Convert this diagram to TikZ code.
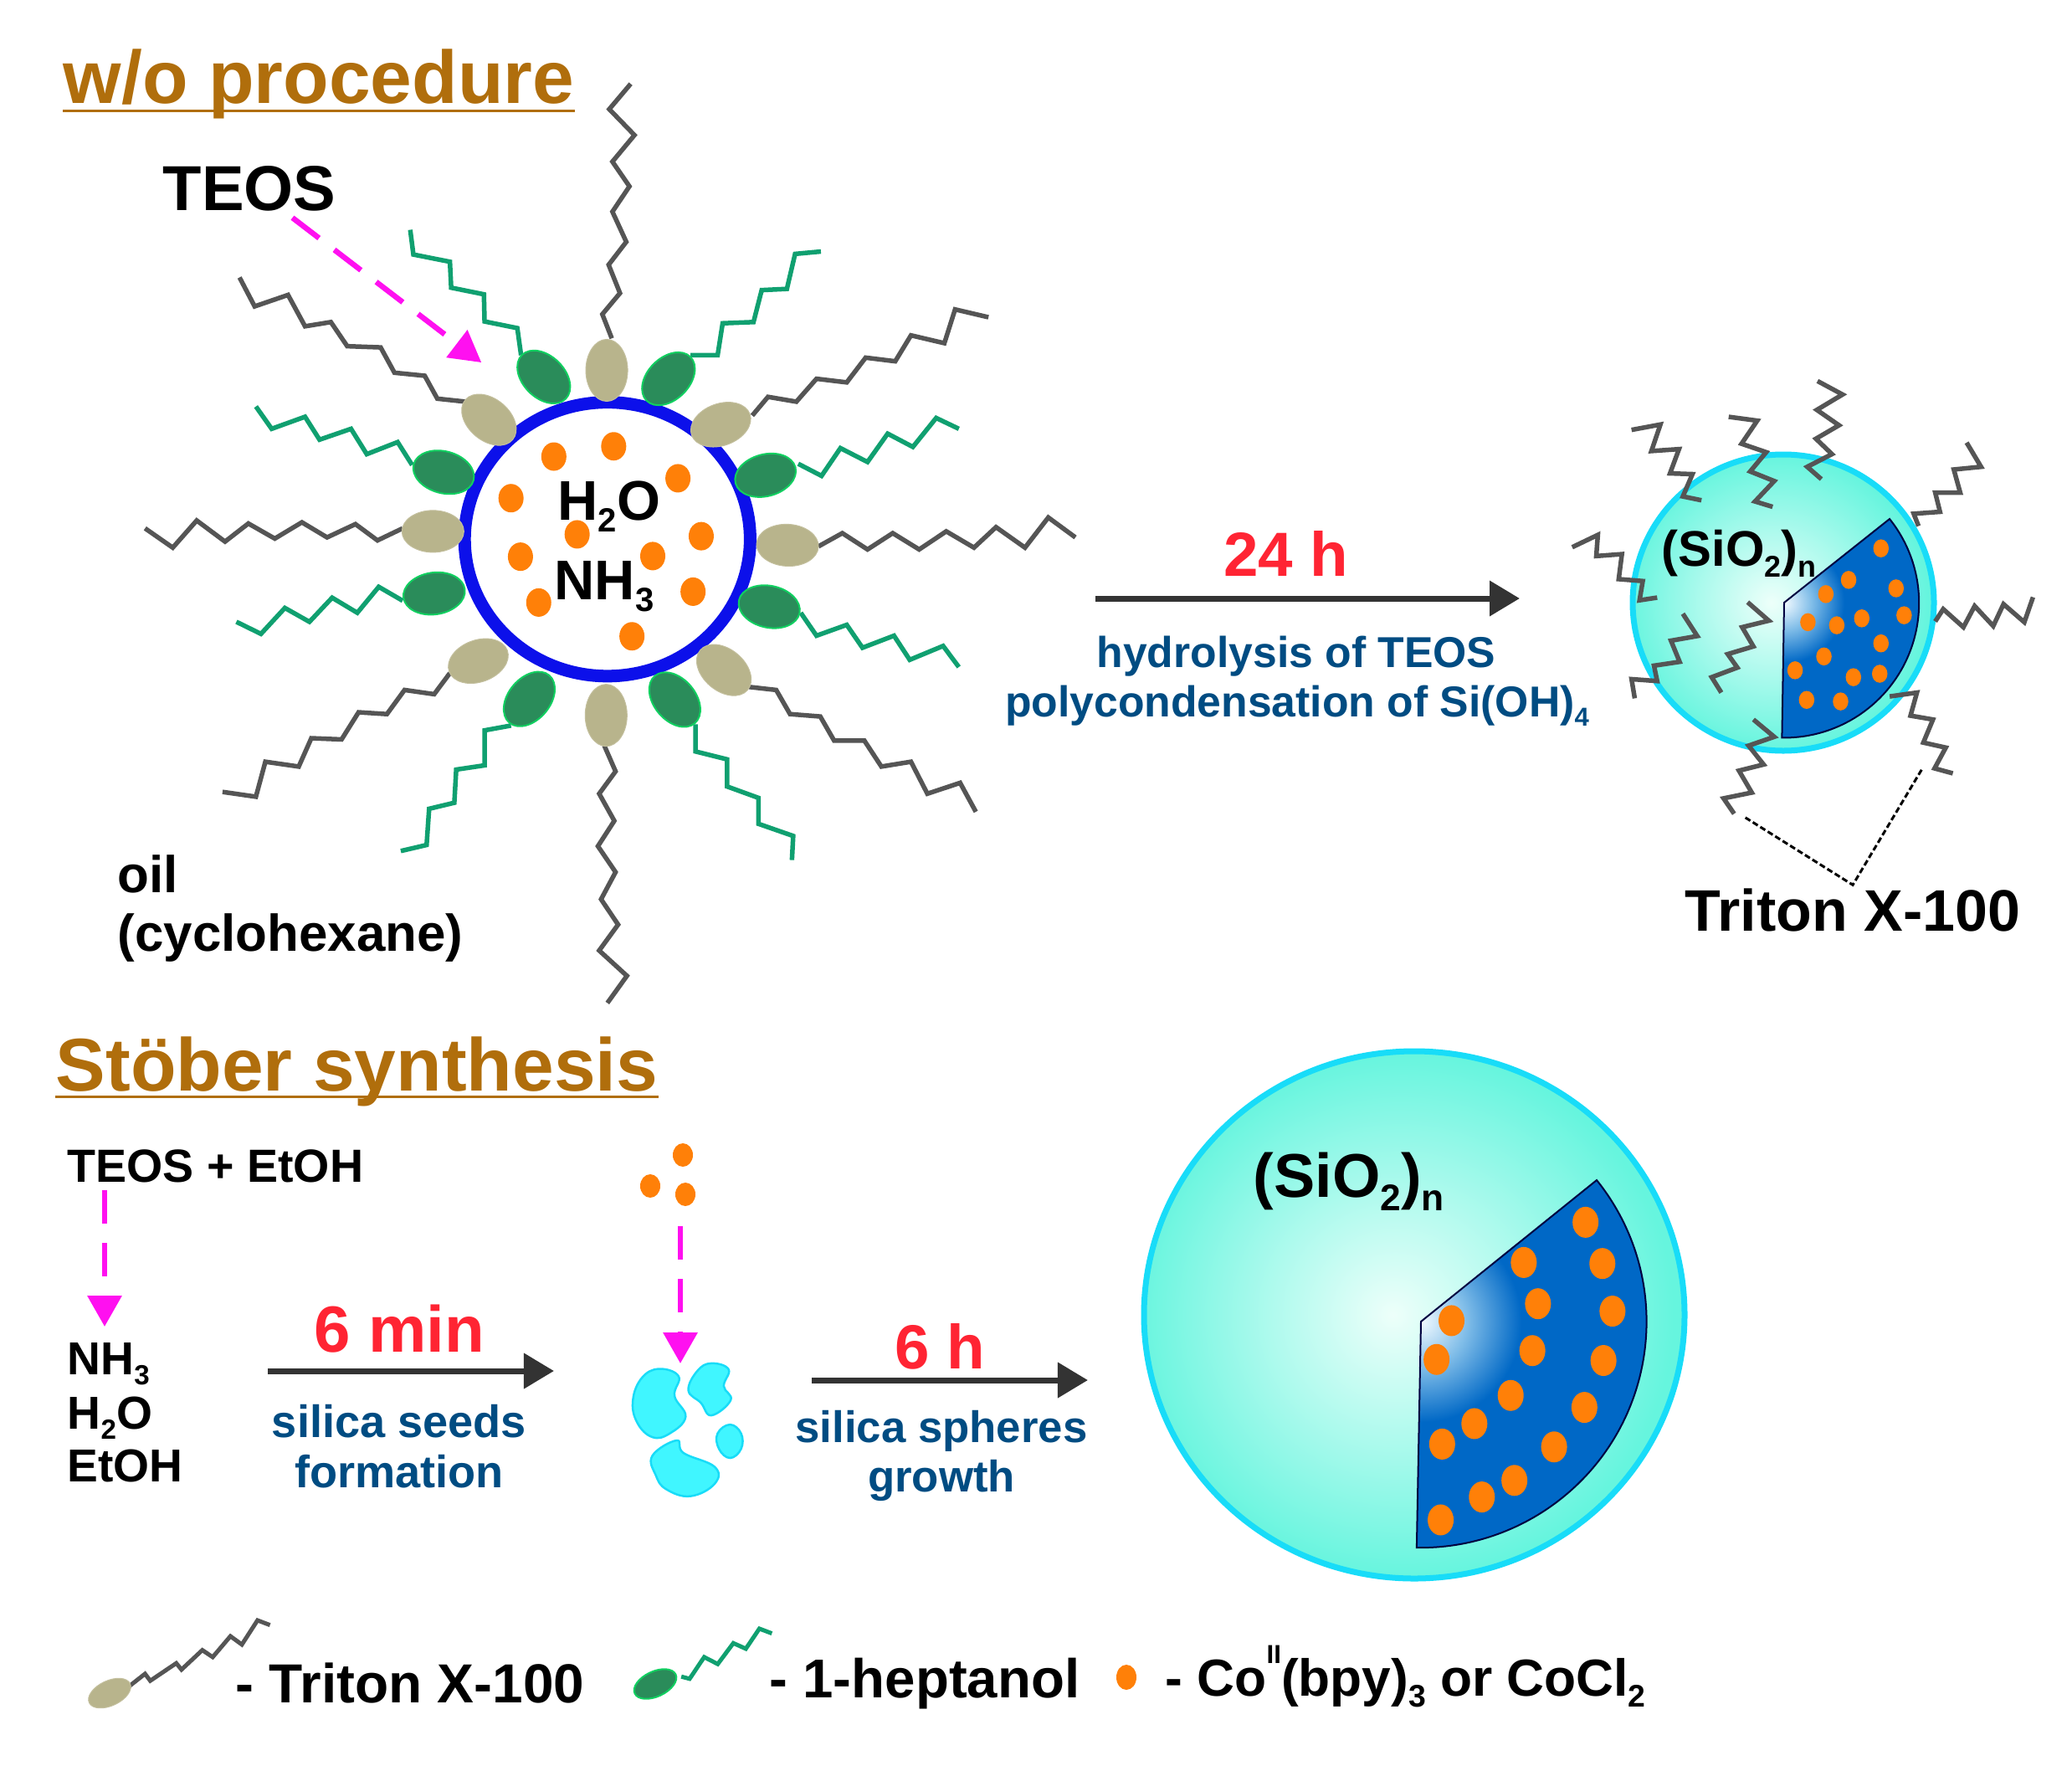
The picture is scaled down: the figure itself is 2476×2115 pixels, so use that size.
\documentclass[tikz,border=0pt]{standalone}
\usepackage{fontspec}
\setmainfont{Liberation Sans}
\usetikzlibrary{arrows.meta,shapes.geometric}
\definecolor{titlebrown}{HTML}{B06E0C}
\definecolor{labelblue}{HTML}{004C82}
\definecolor{timered}{HTML}{FF2433}
\definecolor{darkarrow}{HTML}{333333}
\definecolor{pinkarrow}{HTML}{FF10F0}
\definecolor{tailgray}{HTML}{555555}
\definecolor{tailgreen}{HTML}{10A070}
\definecolor{headtan}{HTML}{B8B48C}
\definecolor{headgreen}{HTML}{2A8C5A}
\definecolor{rimgreen}{HTML}{10D060}
\definecolor{shellblue}{HTML}{0C10EA}
\definecolor{dotorange}{HTML}{FF8008}
\definecolor{rimcyan}{HTML}{18DCF8}
\definecolor{seedcyan}{HTML}{40F6FF}
\definecolor{wedgeblue}{HTML}{0068C6}
\pgfdeclareradialshading{silicaball}{\pgfpoint{-2bp}{0bp}}{rgb(0bp)=(0.93,1,0.98); rgb(12bp)=(0.68,0.98,0.93); rgb(25bp)=(0.40,0.96,0.87); rgb(50bp)=(0.40,0.96,0.87)}
\pgfdeclareradialshading{wedgeglow}{\pgfpoint{0bp}{0bp}}{rgb(0bp)=(0.95,0.98,1); rgb(11bp)=(0.50,0.74,0.91); rgb(24bp)=(0,0.408,0.776); rgb(50bp)=(0,0.408,0.776)}
\newcommand{\low}[1]{\raisebox{-0.22em}{\scalebox{0.6}{#1}}}
\newcommand{\high}[1]{\raisebox{0.62em}{\scalebox{0.5}{#1}}}
\tikzset{txt/.style = {inner sep=0pt, anchor=base west, font=\fontsize{#1}{#1}\selectfont\bfseries}}
\tikzset{mid/.style = {inner sep=0pt, anchor=base, font=\fontsize{#1}{#1}\selectfont\bfseries}}
\tikzset{headline/.style = {txt=25.4, text=titlebrown}}
\tikzset{timelabel/.style = {mid=#1, text=timered}}
\tikzset{steplabel/.style = {mid=#1, text=labelblue}}
\tikzset{uline/.style = {draw=titlebrown, line width=0.03cm}}
\tikzset{reaction/.style = {draw=darkarrow, line width=0.07cm, -{Triangle[length=0.36cm,width=0.41cm]}}}
\tikzset{feed/.style = {draw=pinkarrow, line width=0.065cm, dash pattern=on 0.4cm off 0.23cm, -{Triangle[length=0.37cm,width=0.4cm,fill=pinkarrow]}}}
\tikzset{graychain/.style = {draw=tailgray, line width=0.055cm, line join=miter}}
\tikzset{greenchain/.style = {draw=tailgreen, line width=0.055cm, line join=miter}}
\tikzset{tanhead/.style = {shape=ellipse, fill=headtan, draw=headtan!85!white, line width=0.01cm, inner sep=0pt, minimum width=0.74cm, minimum height=0.5cm}}
\tikzset{greenhead/.style = {shape=ellipse, fill=headgreen, draw=rimgreen, line width=0.02cm, inner sep=0pt, minimum width=0.74cm, minimum height=0.5cm}}
\tikzset{dropdot/.style = {shape=ellipse, fill=dotorange, inner sep=0pt, minimum width=0.3cm, minimum height=0.34cm}}
\tikzset{smalldot/.style = {shape=ellipse, fill=dotorange, inner sep=0pt, minimum width=0.185cm, minimum height=0.215cm}}
\tikzset{bigdot/.style = {shape=ellipse, fill=dotorange, inner sep=0pt, minimum width=0.31cm, minimum height=0.37cm}}
\tikzset{shell/.style = {shape=ellipse, draw=shellblue, line width=0.15cm, inner sep=0pt, minimum width=3.41cm, minimum height=3.27cm}}
\tikzset{seed/.style = {fill=seedcyan, draw=rimcyan, line width=0.025cm}}
\tikzset{wedgeline/.style = {draw=black!75!blue, line width=0.02cm}}
\tikzset{ballrim/.style = {shading=silicaball, draw=rimcyan, line width=0.07cm}}
\begin{document}
\begin{tikzpicture}[x=0.01cm,y=-0.01cm]
\useasboundingbox (0,0) rectangle (2476,2115);
% titles
\node[headline] (title1) at (75,123) {w/o procedure};
\node[headline] (title2) at (66,1303) {Stöber synthesis};
\draw[uline] ([yshift=-0.09cm]title1.base west) -- ([yshift=-0.09cm]title1.base east);
\draw[uline] ([yshift=-0.07cm]title2.base west) -- ([yshift=-0.07cm]title2.base east);
% micelle
\begin{scope}[shift={(150,80)},x=0.007524cm,y=-0.007207cm]
\draw[graychain] (772,450) -- (757,410) -- (785,375) -- (767,328) -- (795,290) -- (773,240) -- (800,198) -- (773,157) -- (808,113) -- (768,70) -- (802,28);
\draw[greenchain] (628,478) -- (622,433) -- (570,422) -- (569,377) -- (517,366) -- (515,323) -- (457,311) -- (452,270);
\draw[graychain] (540,555) -- (495,550) -- (475,512) -- (427,507) -- (405,465) -- (352,463) -- (326,423) -- (285,430) -- (258,378) -- (205,397) -- (181,349);
\draw[greenchain] (455,660) -- (432,622) -- (383,642) -- (358,600) -- (308,618) -- (285,580) -- (232,600) -- (207,563);
\draw[graychain] (440,765) -- (400,785) -- (365,758) -- (320,780) -- (280,755) -- (237,782) -- (195,757) -- (158,787) -- (113,752) -- (75,797) -- (31,765);
\draw[greenchain] (440,885) -- (402,862) -- (368,905) -- (328,880) -- (292,920) -- (253,897) -- (215,940) -- (176,920);
\draw[graychain] (515,1005) -- (490,1040) -- (443,1033) -- (415,1073) -- (370,1070) -- (343,1115) -- (295,1113) -- (275,1160) -- (222,1152) -- (207,1210) -- (154,1202);
\draw[greenchain] (612,1092) -- (570,1100) -- (570,1158) -- (525,1165) -- (522,1220) -- (482,1230) -- (478,1290) -- (437,1300);
\draw[graychain] (760,1125) -- (778,1168) -- (752,1205) -- (776,1250) -- (750,1292) -- (778,1335) -- (755,1380) -- (782,1422) -- (752,1465) -- (796,1507) -- (765,1552);
\draw[greenchain] (905,1090) -- (905,1135) -- (955,1148) -- (955,1193) -- (1005,1212) -- (1005,1255) -- (1060,1275) -- (1058,1315);
\draw[graychain] (990,1028) -- (1033,1033) -- (1055,1073) -- (1103,1077) -- (1125,1117) -- (1173,1117) -- (1200,1160) -- (1247,1152) -- (1273,1205) -- (1325,1187) -- (1350,1235);
\draw[greenchain] (1072,905) -- (1097,943) -- (1145,925) -- (1170,963) -- (1220,943) -- (1245,983) -- (1298,960) -- (1323,995);
\draw[graychain] (1100,795) -- (1138,773) -- (1178,800) -- (1218,773) -- (1260,800) -- (1303,770) -- (1347,797) -- (1382,763) -- (1428,797) -- (1465,747) -- (1508,780);
\draw[greenchain] (1068,658) -- (1105,678) -- (1135,632) -- (1178,655) -- (1210,608) -- (1250,630) -- (1287,582) -- (1323,600);
\draw[graychain] (995,578) -- (1020,547) -- (1065,555) -- (1097,517) -- (1145,523) -- (1175,482) -- (1222,488) -- (1247,445) -- (1300,458) -- (1317,402) -- (1370,415);
\draw[greenchain] (897,478) -- (940,478) -- (948,425) -- (997,423) -- (1010,370) -- (1050,368) -- (1063,310) -- (1104,306);
\node[shell] (water) at (765,783) {};
% heads
\node[tanhead,rotate=90] (t1) at (764,503) {};
\node[tanhead,rotate=-40] (t2) at (577,585) {};
\node[tanhead,rotate=20] (t3) at (945,593) {};
\node[tanhead,rotate=-3] (t4) at (1051,793) {};
\node[tanhead] (t5) at (488,770) {};
\node[tanhead,rotate=20] (t6) at (560,985) {};
\node[tanhead,rotate=-40] (t7) at (950,1000) {};
\node[tanhead,rotate=90] (t8) at (763,1075) {};
\node[greenhead,rotate=-45] (g1) at (664,514) {};
\node[greenhead,rotate=45] (g2) at (862,517) {};
\node[greenhead,rotate=15] (g3) at (1016,677) {};
\node[greenhead,rotate=-12] (g4) at (1022,895) {};
\node[greenhead,rotate=-15] (g5) at (505,672) {};
\node[greenhead,rotate=8] (g6) at (490,873) {};
\node[greenhead,rotate=50] (g7) at (641,1048) {};
\node[greenhead,rotate=-50] (g8) at (872,1049) {};
% dots
\node[dropdot] (d1) at (680,646) {};
\node[dropdot] (d2) at (775,629) {};
\node[dropdot] (d3) at (877,682) {};
\node[dropdot] (d4) at (612,715) {};
\node[dropdot] (d5) at (717,775) {};
\node[dropdot] (d6) at (914,778) {};
\node[dropdot] (d7) at (627,812) {};
\node[dropdot] (d8) at (837,811) {};
\node[dropdot] (d9) at (901,870) {};
\node[dropdot] (d10) at (656,888) {};
\node[dropdot] (d11) at (804,944) {};
% arrow from TEOS
\coordinate (feedstart) at (265,250);
\coordinate (feedend) at (565,490);
\end{scope}
\node[txt=21.6] (teos) at (194,251) {TEOS};
\draw[feed] (feedstart) -- (feedend);
\node[txt=19] (h2o) at (666,621) {H\low{2}O};
\node[txt=19] (nh3) at (662,716) {NH\low{3}};
\node[txt=17.6] (oil) at (140,1066) {oil};
\node[txt=17.6] (oilname) at (140,1136) {(cyclohexane)};
% reaction 24 h
\coordinate (r1s) at (1309,715);
\coordinate (r1e) at (1816,715);
\draw[reaction] (r1s) -- (r1e);
\node[timelabel=21.2] (t24) at (1537,688) {24 h};
\node[steplabel=14.7] (hydro) at (1549,797) {hydrolysis of TEOS};
\node[steplabel=14.7] (poly) at (1550,856) {polycondensation of Si(OH)\low{4}};
% small sphere
\shade[ballrim] (2131,720) circle [x radius=180, y radius=177];
\fill[wedgeblue] (2132,720) -- (2258,620) arc [start angle=-38.6, end angle=91, radius=161] -- cycle;
\begin{scope}
\clip (2132,720) -- (2258,620) arc [start angle=-38.6, end angle=91, radius=161] -- cycle;
\shade[shading=wedgeglow] (2132,720) circle [radius=75];
\end{scope}
\draw[wedgeline] (2132,720) -- (2258,620) arc [start angle=-38.6, end angle=91, radius=161] -- cycle;
\begin{scope}[shift={(1850,430)},x=0.003827cm,y=-0.004591cm]
\node[smalldot] (s1) at (1038,490) {};
\node[smalldot] (s2) at (937,572) {};
\node[smalldot] (s3) at (1085,594) {};
\node[smalldot] (s4) at (866,609) {};
\node[smalldot] (s5) at (1110,664) {};
\node[smalldot] (s6) at (810,682) {};
\node[smalldot] (s7) at (900,690) {};
\node[smalldot] (s8) at (978,672) {};
\node[smalldot] (s9) at (1038,737) {};
\node[smalldot] (s10) at (860,771) {};
\node[smalldot] (s11) at (770,807) {};
\node[smalldot] (s12) at (1034,816) {};
\node[smalldot] (s13) at (952,825) {};
\node[smalldot] (s14) at (806,884) {};
\node[smalldot] (s15) at (912,888) {};
% chains on the sphere
\draw[graychain] (260,182) -- (350,168) -- (322,237) -- (408,232) -- (380,295) -- (450,297) -- (420,355) -- (478,365);
\draw[graychain] (563,148) -- (652,158) -- (603,218) -- (680,240) -- (630,290) -- (705,315) -- (645,368) -- (700,382);
\draw[graychain] (840,55) -- (918,90) -- (838,130) -- (907,170) -- (835,205) -- (885,245) -- (808,278) -- (852,310);
\draw[graychain] (1305,215) -- (1350,278) -- (1265,285) -- (1285,345) -- (1207,345) -- (1222,395) -- (1140,400) -- (1155,432);
\draw[graychain] (1207,680) -- (1232,648) -- (1295,695) -- (1330,640) -- (1388,692) -- (1420,635) -- (1485,682) -- (1512,617);
\draw[graychain] (1065,875) -- (1150,865) -- (1130,925) -- (1200,935) -- (1170,995) -- (1240,1008) -- (1205,1062) -- (1262,1075);
\draw[graychain] (640,935) -- (705,980) -- (625,1003) -- (672,1052) -- (595,1068) -- (635,1125) -- (547,1140) -- (580,1180);
\draw[graychain] (622,630) -- (688,678) -- (605,695) -- (640,745) -- (560,765) -- (590,800) -- (510,825) -- (540,865);
\draw[graychain] (420,660) -- (465,718) -- (383,730) -- (410,785) -- (330,795) -- (340,835) -- (260,830) -- (270,880);
\draw[graychain] (75,487) -- (155,455) -- (150,510) -- (230,505) -- (220,570) -- (295,575) -- (285,625) -- (340,618);
\coordinate (leader1) at (615,1190);
\coordinate (leadertip) at (950,1365);
\coordinate (leader2) at (1165,1065);
\end{scope}
\node[txt=17] (silica1) at (1985,676) {(SiO\low{2})\low{n}};
\draw[black, line width=0.03cm, dash pattern=on 0.07cm off 0.035cm] (leader1) -- (leadertip) -- (leader2);
\node[txt=19.9] (triton) at (2013,1112) {Triton X-100};
% Stober side
\node[txt=15.8] (mix) at (80,1412) {TEOS + EtOH};
\coordinate (m1s) at (125,1422);
\coordinate (m1e) at (125,1585);
\draw[feed] (m1s) -- (m1e);
\node[txt=15.7] (nh3b) at (80,1642) {NH\low{3}};
\node[txt=15.7] (h2ob) at (80,1707) {H\low{2}O};
\node[txt=15.7] (etoh) at (80,1770) {EtOH};
\coordinate (r2s) at (320,1638);
\coordinate (r2e) at (662,1638);
\draw[reaction] (r2s) -- (r2e);
\node[timelabel=22.2] (t6min) at (477,1615) {6 min};
\node[steplabel=15.4] (seeds) at (477,1717) {silica seeds};
\node[steplabel=15.4] (form) at (477,1777) {formation};
\node[dropdot,minimum width=0.24cm,minimum height=0.28cm] (o1) at (816,1380) {};
\node[dropdot,minimum width=0.24cm,minimum height=0.28cm] (o2) at (777,1417) {};
\node[dropdot,minimum width=0.24cm,minimum height=0.28cm] (o3) at (819,1427) {};
\coordinate (m2s) at (813,1465);
\coordinate (m2e) at (813,1629);
\draw[feed] (m2s) -- (m2e);
% silica seeds
\begin{scope}[shift={(50,1340)},x=0.00829cm,y=-0.00333cm]
\draw[seed] plot[smooth cycle,tension=0.7] coordinates {(890,888) (918,915) (912,985) (928,1060) (905,1120) (880,1133) (858,1080) (852,1000) (865,920)};
\draw[seed] plot[smooth cycle,tension=0.7] coordinates {(965,868) (990,890) (983,950) (993,1000) (965,1055) (950,1010) (932,965) (945,895)};
\draw[seed] plot[smooth cycle,tension=0.7] coordinates {(992,1088) (1008,1120) (1008,1175) (992,1208) (976,1175) (974,1120)};
\draw[seed] plot[smooth cycle,tension=0.7] coordinates {(915,1145) (925,1190) (970,1240) (970,1300) (935,1345) (900,1320) (885,1270) (880,1200)};
\end{scope}
\coordinate (r3s) at (970,1649);
\coordinate (r3e) at (1300,1649);
\draw[reaction] (r3s) -- (r3e);
\node[timelabel=21.2] (t6h) at (1123,1635) {6 h};
\node[steplabel=15] (spheres) at (1125,1723) {silica spheres};
\node[steplabel=15] (growth) at (1125,1782) {growth};
% big sphere
\shade[ballrim] (1690,1571) circle [x radius=323, y radius=315];
\fill[wedgeblue] (1698,1579) -- (1908,1410) arc [start angle=-38.8, end angle=91, radius=270] -- cycle;
\begin{scope}
\clip (1698,1579) -- (1908,1410) arc [start angle=-38.8, end angle=91, radius=270] -- cycle;
\shade[shading=wedgeglow] (1698,1579) circle [radius=125];
\end{scope}
\draw[wedgeline] (1698,1579) -- (1908,1410) arc [start angle=-38.8, end angle=91, radius=270] -- cycle;
\begin{scope}[shift={(1340,1240)},x=0.004464cm,y=-0.004209cm]
\node[bigdot] (b1) at (1240,523) {};
\node[bigdot] (b2) at (1075,637) {};
\node[bigdot] (b3) at (1285,640) {};
\node[bigdot] (b4) at (1113,754) {};
\node[bigdot] (b5) at (1312,775) {};
\node[bigdot] (b6) at (882,802) {};
\node[bigdot] (b7) at (842,912) {};
\node[bigdot] (b8) at (1098,887) {};
\node[bigdot] (b9) at (1288,915) {};
\node[bigdot] (b10) at (1040,1014) {};
\node[bigdot] (b11) at (1237,1048) {};
\node[bigdot] (b12) at (943,1094) {};
\node[bigdot] (b13) at (857,1152) {};
\node[bigdot] (b14) at (1156,1160) {};
\node[bigdot] (b15) at (1050,1255) {};
\node[bigdot] (b16) at (963,1302) {};
\node[bigdot] (b17) at (853,1367) {};
\end{scope}
\node[txt=21] (silica2) at (1497,1430) {(SiO\low{2})\low{n}};
% legend
\begin{scope}[shift={(80,1900)},x=0.012438cm,y=-0.003333cm]
\draw[graychain,line width=0.05cm] (58,350) -- (75,300) -- (80,325) -- (105,262) -- (110,285) -- (130,215) -- (140,240) -- (157,165) -- (168,195) -- (183,108) -- (195,125);
\draw[greenchain,line width=0.05cm] (590,310) -- (598,318) -- (612,240) -- (625,265) -- (640,190) -- (652,210) -- (665,138) -- (677,155);
\end{scope}
\node[tanhead,rotate=25,minimum width=0.54cm,minimum height=0.3cm] (legtan) at (131,2023) {};
\node[greenhead,rotate=25,minimum width=0.54cm,minimum height=0.3cm] (leggreen) at (783,2012) {};
\node[dropdot,minimum width=0.24cm,minimum height=0.3cm] (legdot) at (1346,2004) {};
\node[txt=18.7] (leg1) at (281,2034) {- Triton X-100};
\node[txt=18.6] (leg2) at (919,2028) {- 1-heptanol};
\node[txt=17.7] (leg3) at (1392,2026) {- Co\high{II}(bpy)\low{3} or CoCl\low{2}};
\end{tikzpicture}
\end{document}
